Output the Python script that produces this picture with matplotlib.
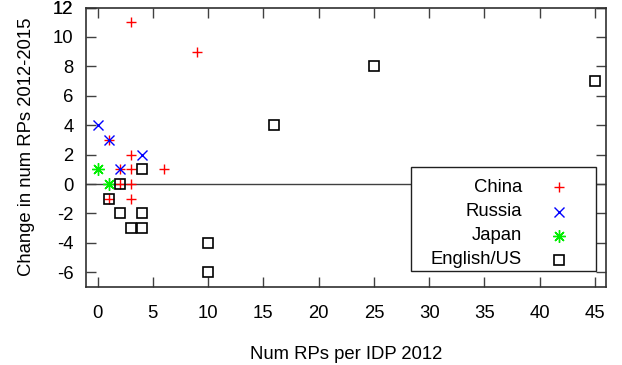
import matplotlib
matplotlib.use("Agg")
import matplotlib.pyplot as plt
from matplotlib.patches import Rectangle

plt.rcParams['font.family'] = ['Liberation Sans', 'DejaVu Sans']

# Data
china_x = [3, 9, 3, 2, 3, 6, 2, 3, 1, 3, 1]
china_y = [11, 9, 2, 1, 1, 1, 0, 0, -1, -1, 3]
russia_x = [0, 1, 4, 2]
russia_y = [4, 3, 2, 1]
japan_x = [0, 1]
japan_y = [1, 0]
english_x = [4, 2, 1, 2, 4, 3, 4, 16, 10, 10, 25, 45]
english_y = [1, 0, -1, -2, -2, -3, -3, 4, -4, -6, 8, 7]

series_names = ["China", "Russia", "Japan", "English/US"]
x_ticks = list(range(0, 46, 5))
y_ticks = list(range(-6, 13, 2))

FS = 13.3

fig = plt.figure(figsize=(6.22, 3.65), dpi=100)
ax = fig.add_axes([86/622, 1-287/365, (606-86)/622, (287-7.5)/365])

ax.axhline(0, color='#404040', lw=1.0, zorder=1)

styles = [
    dict(marker='+', color='#ff0000', ms=7.5, mew=1.0, ls='none'),
    dict(marker='x', color='#0000ff', ms=7, mew=1.0, ls='none'),
    dict(marker=(8, 2, 0), color='#00ee00', ms=9, mew=1.0, ls='none'),
    dict(marker='s', mfc='none', mec='black', ms=7.8, mew=1.2, ls='none'),
]
data = [(china_x, china_y), (russia_x, russia_y), (japan_x, japan_y), (english_x, english_y)]
for (xs, ys), st in zip(data, styles):
    ax.plot(xs, ys, zorder=3, **st)

ax.set_xlim(-1.05, 46)
ax.set_ylim(-7, 12)
ax.set_xticks(x_ticks)
ax.set_yticks(y_ticks + [12])
ax.set_yticklabels([str(v) for v in y_ticks] + ["12"])
ax.tick_params(direction='in', length=7, width=1, top=True, right=True,
               labelsize=FS, color='#404040')
ax.tick_params(axis='x', pad=13)
ax.tick_params(axis='y', pad=9)
for s in ax.spines.values():
    s.set_linewidth(1.2)
    s.set_color('#303030')

ax.set_xlabel("Num RPs per IDP 2012", fontsize=FS, labelpad=17)
ax.set_ylabel("Change in num RPs 2012-2015", fontsize=FS, labelpad=13)

# Legend (gnuplot style: text right-aligned, then sample)
def ax_frac(px, py):
    x0, x1 = 86, 606
    y0, y1 = 287, 7.5
    return (px - x0) / (x1 - x0), (py - y0) / (y1 - y0)

lx0, ly0 = ax_frac(411, 271)
lx1, ly1 = ax_frac(596, 167)
ax.add_patch(Rectangle((lx0, ly0), lx1 - lx0, ly1 - ly0, transform=ax.transAxes,
                       facecolor='white', edgecolor='#202020', lw=1.0, zorder=4))
rows_py = [187, 211.5, 236, 259.5]
tx, _ = ax_frac(522, 0)
mx, _ = ax_frac(559, 0)
for name, st, py in zip(series_names, styles, rows_py):
    _, fy = ax_frac(0, py)
    ax.text(tx, fy, name, transform=ax.transAxes, ha='right', va='center',
            fontsize=FS, zorder=5)
    ax.plot([mx], [fy], transform=ax.transAxes, zorder=5, clip_on=False, **st)

fig.savefig("out.png", dpi=100)
